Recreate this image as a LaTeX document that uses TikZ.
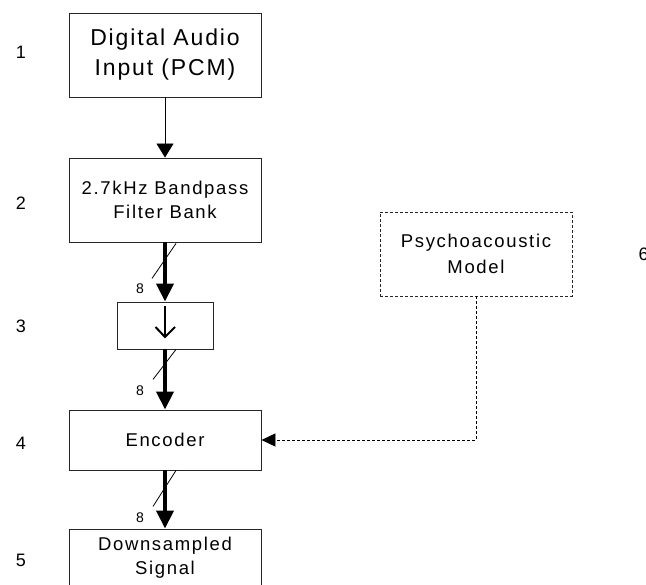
\documentclass[tikz,border=0pt]{standalone}
\usepackage{fontspec}
\setmainfont{Liberation Sans}
\usetikzlibrary{arrows.meta,calc}

\begin{document}
\begin{tikzpicture}[x=1pt,y=-1pt,
    boxtext/.style={font={\fontsize{18.5}{24}\selectfont\addfontfeature{LetterSpace=9}}},
    block/.style={draw=black!85, line width=0.9pt, rectangle, inner sep=0pt,
                  minimum width=192pt, minimum height=84pt, align=center, boxtext},
    dashblock/.style={block, dash pattern=on 3pt off 2pt},
    rowlabel/.style={font=\fontsize{18}{18}\selectfont},
    buslabel/.style={font=\fontsize{14}{14}\selectfont},
    bus/.style={line width=4pt, -{Triangle[length=18pt,width=17pt]}},
    thinarrow/.style={line width=0.9pt, -{Triangle[length=14pt,width=17pt]}},
    ctrlarrow/.style={line width=0.8pt, dash pattern=on 3pt off 2pt,
                      -{Triangle[length=14pt,width=13pt]}},
    slash/.style={line width=0.8pt},
    downsym/.style={line width=2pt, line join=miter}]
  \clip (0,0) rectangle (646,585);

  % processing chain
  \node[block, font={\fontsize{23}{30}\selectfont\addfontfeature{LetterSpace=8}}]
       (b1) at (165,55) {Digital Audio\\Input (PCM)};
  \node[block] (b2) at (165,200) {2.7kHz Bandpass\\Filter Bank};
  \node[block, minimum width=96pt, minimum height=47pt] (b3) at (165,325.5) {};
  \node[block, minimum height=60pt] (b4) at (165,440) {Encoder};
  \node[block, minimum height=58pt] (b5) at (165,558) {Downsampled\\Signal};
  \node[dashblock, font={\fontsize{18.5}{26}\selectfont\addfontfeature{LetterSpace=9}}]
       (pm) at (476,254) {Psychoacoustic\\Model};

  % downsampling symbol inside the decimator block
  \draw[downsym] ($(b3.center)+(0,-19.5)$) -- ($(b3.center)+(0,11.5)$);
  \draw[downsym] ($(b3.center)+(-9.5,1.5)$) -- ($(b3.center)+(0,11.5)$)
                 -- ($(b3.center)+(10,1.5)$);

  % stage numbers
  \node[rowlabel] (n1) at (21,52) {1};
  \node[rowlabel] (n2) at (21,203) {2};
  \node[rowlabel] (n3) at (21,326) {3};
  \node[rowlabel] (n4) at (21,443) {4};
  \node[rowlabel] (n5) at (21,560) {5};
  \node[rowlabel, anchor=west] (n6) at (635,254) {6};

  % connectors
  \draw[thinarrow] (b1.south) -- (b2.north);
  \draw[bus] (b2.south) -- (b3.north);
  \draw[bus] (b3.south) -- (b4.north);
  \draw[bus] (b4.south) -- (b5.north);
  \draw[ctrlarrow] (pm.south) |- (b4.east);

  % 8-line bus markers
  \draw[slash] ($(b2.south)+(11,1)$) -- ($(b2.south)+(-13,36)$);
  \draw[slash] ($(b3.south)+(11,0)$) -- ($(b3.south)+(-12,30)$);
  \draw[slash] ($(b4.south)+(11,0)$) -- ($(b4.south)+(-12,36)$);
  \node[buslabel] (w1) at (140,289) {8};
  \node[buslabel] (w2) at (140,391) {8};
  \node[buslabel] (w3) at (140,517.5) {8};
\end{tikzpicture}
\end{document}
